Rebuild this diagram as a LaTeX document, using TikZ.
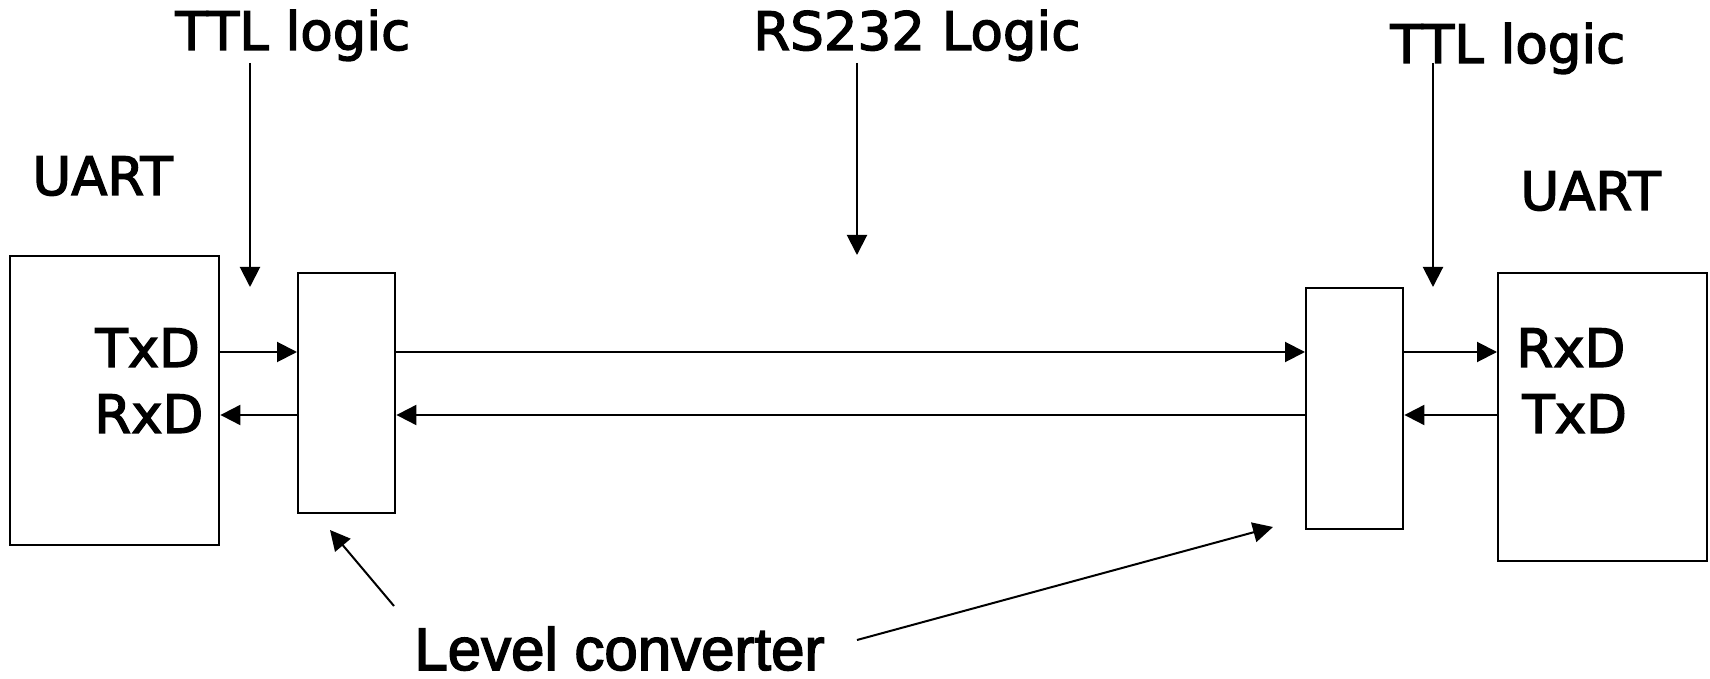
\documentclass[tikz,border=0pt]{standalone}
\usepackage{fontspec}
\setmainfont{DejaVu Sans}[BoldFont={DejaVu Sans},BoldFeatures={FakeBold=2.5}]
\newfontfamily\lvfont{Liberation Sans}[BoldFont={Liberation Sans},BoldFeatures={FakeBold=2.5}]
\usetikzlibrary{arrows.meta}
\begin{document}
\begin{tikzpicture}[x=0.5pt,y=-0.5pt,
  blk/.style={draw,line width=1.2pt,inner sep=0pt,anchor=north west},
  lbl/.style={inner sep=0pt,anchor=base west,font=\bfseries\fontsize{26.5pt}{30pt}\selectfont},
  arr/.style={line width=1pt,-{Triangle[length=10pt,width=10pt]}}]
\useasboundingbox (0,0) rectangle (1710,679);
% boxes
\node[blk,minimum width=104.5pt,minimum height=144.5pt] (luart) at (9,255) {};
\node[blk,minimum width=48.5pt,minimum height=120pt] (lconv) at (297,272) {};
\node[blk,minimum width=48.5pt,minimum height=120.5pt] (rconv) at (1305,287) {};
\node[blk,minimum width=104.5pt,minimum height=144pt] (ruart) at (1497,272) {};
% labels
\node[lbl] (ttlL) at (175,50) {TTL logic};
\node[lbl] (rs) at (753,50) {RS232 Logic};
\node[lbl] (ttlR) at (1390,63) {TTL logic};
\node[lbl] (uartL) at (32,195) {UART};
\node[lbl] (uartR) at (1520,210) {UART};
\node[lbl] (txdL) at (95,367) {TxD};
\node[lbl] (rxdL) at (94,433) {RxD};
\node[lbl] (rxdR) at (1516,367) {RxD};
\node[lbl] (txdR) at (1522,433) {TxD};
\node[inner sep=0pt,anchor=base west,font=\lvfont\bfseries\fontsize{30pt}{34pt}\selectfont] (lvl) at (414,670) {Level converter};
% pointer coordinates
\coordinate (ttlLs) at (250,63);
\coordinate (ttlLe) at (250,287);
\coordinate (rsS) at (857,63);
\coordinate (rsE) at (857,255);
\coordinate (ttlRs) at (1433,63);
\coordinate (ttlRe) at (1433,287);
\coordinate (lvA) at (394,606);
\coordinate (lvAe) at (330,530);
\coordinate (lvB) at (857,640);
\coordinate (lvBe) at (1273,527);
% pointers
\draw[arr] (ttlLs) -- (ttlLe);
\draw[arr] (rsS) -- (rsE);
\draw[arr] (ttlRs) -- (ttlRe);
\draw[arr] (lvA) -- (lvAe);
\draw[arr] (lvB) -- (lvBe);
% signal lines
\draw[arr] (luart.east |- 0,352) -- (lconv.west |- 0,352);
\draw[arr] (lconv.west |- 0,415) -- (luart.east |- 0,415);
\draw[arr] (lconv.east |- 0,352) -- (rconv.west |- 0,352);
\draw[arr] (rconv.west |- 0,415) -- (lconv.east |- 0,415);
\draw[arr] (rconv.east |- 0,352) -- (ruart.west |- 0,352);
\draw[arr] (ruart.west |- 0,415) -- (rconv.east |- 0,415);
\end{tikzpicture}
\end{document}
